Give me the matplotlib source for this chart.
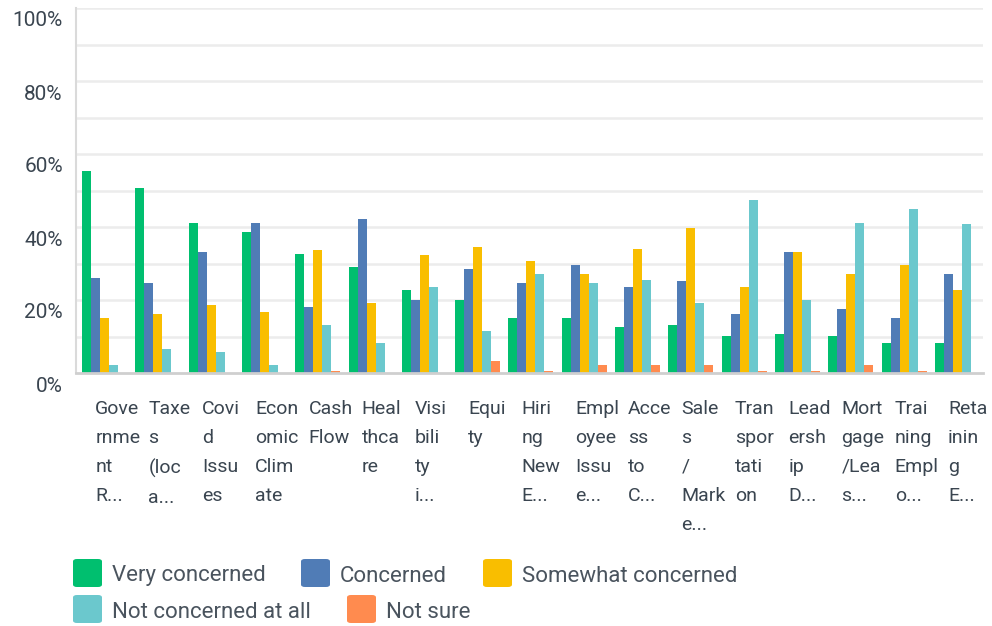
import numpy as np
import matplotlib.pyplot as plt
import matplotlib.transforms as mtransforms
from matplotlib.patches import FancyBboxPatch

plt.rcParams['font.family'] = ['Roboto', 'DejaVu Sans']

# wrapped / truncated category labels as shown on the chart
categories = [
    "Gove\nrnme\nnt\nR...", "Taxe\ns\n(loc\na...", "Covi\nd\nIssu\nes",
    "Econ\nomic\nClim\nate", "Cash\nFlow", "Heal\nthca\nre",
    "Visi\nbili\nty\ni...", "Equi\nty", "Hiri\nng\nNew\nE...",
    "Empl\noyee\nIssu\ne...", "Acce\nss\nto\nC...", "Sale\ns\n/\nMark\ne...",
    "Tran\nspor\ntati\non", "Lead\nersh\nip\nD...", "Mort\ngage\n/Lea\ns...",
    "Trai\nning\nEmpl\no...", "Reta\ninin\ng\nE...",
]

series_names = ["Very concerned", "Concerned", "Somewhat concerned",
                "Not concerned at all", "Not sure"]

very_concerned = [55.3, 50.6, 41.2, 38.7, 32.7, 29.1, 22.8, 20.0, 15.1,
                  15.1, 12.6, 13.1, 10.1, 10.7, 10.1, 8.2, 8.2]
concerned = [26.1, 24.7, 33.2, 41.2, 18.1, 42.1, 20.0, 28.6, 24.7,
             29.6, 23.6, 25.3, 16.2, 33.2, 17.5, 15.1, 27.2]
somewhat = [15.1, 16.2, 18.6, 16.7, 33.8, 19.2, 32.2, 34.6, 30.8,
            27.2, 34.1, 39.6, 23.6, 33.2, 27.2, 29.6, 22.8]
not_concerned = [2.1, 6.5, 5.7, 2.1, 13.1, 8.2, 23.6, 11.5, 27.2,
                 24.7, 25.5, 19.2, 47.3, 20.0, 41.2, 44.8, 40.7]
not_sure = [0, 0, 0, 0, 0.5, 0, 0, 3.2, 0.5,
            2.1, 2.1, 2.1, 0.5, 0.5, 2.1, 0.5, 0]

colors = ['#00bf6f', '#507cb6', '#f9be00', '#6bc8cd', '#ff8b4f']
text_color = '#3a4550'

W, H = 992, 626
fig = plt.figure(figsize=(W / 100, H / 100), dpi=100)
ax = fig.add_axes([76 / W, 1 - 373 / H, (983 - 76) / W, (373 - 8) / H])

x = np.arange(len(categories))
w = 0.169
data = [very_concerned, concerned, somewhat, not_concerned, not_sure]
for k, vals in enumerate(data):
    ax.bar(x + (k - 2) * w, vals, width=w, color=colors[k], zorder=3,
           linewidth=0)

ax.set_xlim(-0.535, 16.48)
ax.set_ylim(0, 100)
for g in range(10, 101, 10):
    ax.axhline(g, color='#ececec', lw=1.8, zorder=1)

ax.set_yticks(range(0, 101, 20))
ax.set_yticklabels(['%d%%' % v for v in range(0, 101, 20)],
                   fontsize=15, color=text_color)
ax.tick_params(axis='y', length=0, pad=9.5)
off = mtransforms.ScaledTranslation(0, -11 / 100, fig.dpi_scale_trans)
for lab in ax.get_yticklabels():
    lab.set_transform(lab.get_transform() + off)
ax.set_xticks([])

for s in ['top', 'right']:
    ax.spines[s].set_visible(False)
ax.spines['left'].set_color('#dadada')
ax.spines['left'].set_linewidth(1.5)
ax.spines['bottom'].set_color('#cfcfcf')
ax.spines['bottom'].set_linewidth(2)
ax.spines['bottom'].set_zorder(4)

trans = mtransforms.blended_transform_factory(ax.transData, fig.transFigure)
for i, lab in enumerate(categories):
    ax.text(i - 0.175, 1 - 400 / H, lab, transform=trans, ha='left',
            va='top', fontsize=14, color=text_color, linespacing=1.78,
            clip_on=False)

# legend laid out as in the reference (two flowing rows)
legend_pos = [(73, 559), (301, 559), (483, 559), (73, 595), (347, 595)]
for k, (lx, ly) in enumerate(legend_pos):
    box = FancyBboxPatch((lx / W, 1 - (ly + 28) / H), 29 / W, 28 / H,
                         boxstyle='round,pad=0,rounding_size=0.004',
                         transform=fig.transFigure, facecolor=colors[k],
                         edgecolor='none')
    fig.patches.append(box)
    fig.text((lx + 39) / W, 1 - (ly + 17) / H, series_names[k],
             fontsize=16, color='#4a545e', ha='left', va='center')

fig.savefig('out.png', dpi=100)
